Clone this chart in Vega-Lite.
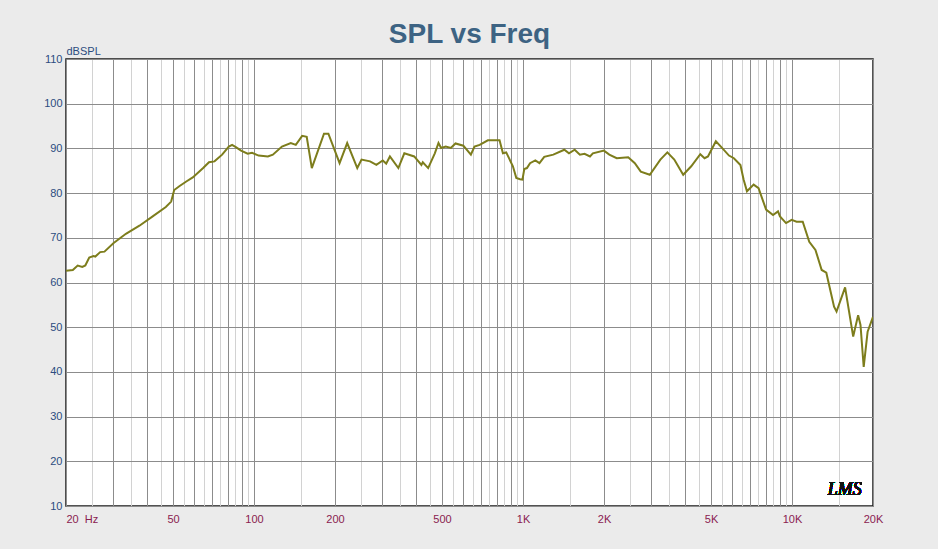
{
  "$schema": "https://vega.github.io/schema/vega-lite/v6.json",
  "description": "SPL vs frequency response of a driver.",
  "width": 807,
  "height": 447,
  "autosize": {"type": "none"},
  "padding": {"left": 66, "top": 59, "right": 65, "bottom": 43},
  "background": "#ebebeb",
  "title": {
    "text": "SPL vs Freq",
    "font": "Liberation Sans",
    "fontSize": 28,
    "fontWeight": "bold",
    "color": "#3d6383",
    "anchor": "middle",
    "baseline": "alphabetic",
    "offset": -26
  },
  "data": {
    "values": [
      {"freq": 20, "spl": 62.6}, {"freq": 21.2, "spl": 62.8}, {"freq": 22.1, "spl": 63.8},
      {"freq": 23, "spl": 63.5}, {"freq": 23.6, "spl": 63.8}, {"freq": 24.4, "spl": 65.6},
      {"freq": 25.3, "spl": 65.9}, {"freq": 25.7, "spl": 65.8}, {"freq": 26.8, "spl": 66.8},
      {"freq": 27.8, "spl": 66.9}, {"freq": 30, "spl": 68.8}, {"freq": 33.4, "spl": 70.9},
      {"freq": 37.5, "spl": 72.7}, {"freq": 42, "spl": 74.8}, {"freq": 47, "spl": 76.9},
      {"freq": 49.2, "spl": 78.1}, {"freq": 50.5, "spl": 80.7}, {"freq": 52.9, "spl": 81.6},
      {"freq": 56, "spl": 82.6}, {"freq": 59.2, "spl": 83.5}, {"freq": 64.7, "spl": 85.6},
      {"freq": 68, "spl": 86.9}, {"freq": 71.3, "spl": 87.1}, {"freq": 76.1, "spl": 88.6},
      {"freq": 80.6, "spl": 90.4}, {"freq": 82.9, "spl": 90.8}, {"freq": 85.6, "spl": 90.3},
      {"freq": 89.5, "spl": 89.5}, {"freq": 94.7, "spl": 88.8}, {"freq": 98.3, "spl": 89.0},
      {"freq": 104, "spl": 88.4}, {"freq": 112.6, "spl": 88.2}, {"freq": 117.5, "spl": 88.6},
      {"freq": 127, "spl": 90.4}, {"freq": 137, "spl": 91.2}, {"freq": 143, "spl": 90.8},
      {"freq": 151, "spl": 92.8}, {"freq": 157, "spl": 92.6}, {"freq": 164, "spl": 85.6},
      {"freq": 182, "spl": 93.3}, {"freq": 189, "spl": 93.3}, {"freq": 208, "spl": 86.7},
      {"freq": 222, "spl": 91.2}, {"freq": 242, "spl": 85.6}, {"freq": 251, "spl": 87.5},
      {"freq": 270, "spl": 87.1}, {"freq": 285, "spl": 86.3}, {"freq": 301, "spl": 87.3},
      {"freq": 310, "spl": 86.6}, {"freq": 320, "spl": 88.2}, {"freq": 344, "spl": 85.6},
      {"freq": 362, "spl": 88.9}, {"freq": 394, "spl": 88.2}, {"freq": 419, "spl": 86.3},
      {"freq": 424, "spl": 86.9}, {"freq": 444, "spl": 85.6}, {"freq": 470, "spl": 88.9},
      {"freq": 485, "spl": 91.2}, {"freq": 496, "spl": 90.1}, {"freq": 516, "spl": 90.4},
      {"freq": 539, "spl": 90.1}, {"freq": 561, "spl": 91.1}, {"freq": 600, "spl": 90.6},
      {"freq": 640, "spl": 88.6}, {"freq": 660, "spl": 90.4}, {"freq": 690, "spl": 90.8},
      {"freq": 740, "spl": 91.8}, {"freq": 818, "spl": 91.8}, {"freq": 842, "spl": 88.9},
      {"freq": 866, "spl": 89.1}, {"freq": 917, "spl": 86.0}, {"freq": 944, "spl": 83.4},
      {"freq": 975, "spl": 83.1}, {"freq": 995, "spl": 83.0}, {"freq": 1011, "spl": 85.4},
      {"freq": 1034, "spl": 85.6}, {"freq": 1062, "spl": 86.7}, {"freq": 1111, "spl": 87.3},
      {"freq": 1151, "spl": 86.7}, {"freq": 1199, "spl": 88.1}, {"freq": 1296, "spl": 88.6},
      {"freq": 1424, "spl": 89.7}, {"freq": 1482, "spl": 88.9}, {"freq": 1556, "spl": 89.7},
      {"freq": 1627, "spl": 88.6}, {"freq": 1693, "spl": 88.8}, {"freq": 1774, "spl": 88.2},
      {"freq": 1818, "spl": 88.9}, {"freq": 1998, "spl": 89.5}, {"freq": 2093, "spl": 88.6},
      {"freq": 2230, "spl": 87.8}, {"freq": 2460, "spl": 88.0}, {"freq": 2604, "spl": 86.7},
      {"freq": 2740, "spl": 84.8}, {"freq": 2960, "spl": 84.1}, {"freq": 3240, "spl": 87.5},
      {"freq": 3440, "spl": 89.1}, {"freq": 3650, "spl": 87.5}, {"freq": 3940, "spl": 84.1},
      {"freq": 4220, "spl": 86.0}, {"freq": 4560, "spl": 88.7}, {"freq": 4730, "spl": 87.8},
      {"freq": 4870, "spl": 88.2}, {"freq": 5210, "spl": 91.6}, {"freq": 5440, "spl": 90.4},
      {"freq": 5830, "spl": 88.4}, {"freq": 6080, "spl": 87.8}, {"freq": 6430, "spl": 86.3},
      {"freq": 6610, "spl": 83.0}, {"freq": 6800, "spl": 80.4}, {"freq": 7200, "spl": 81.9},
      {"freq": 7510, "spl": 81.1}, {"freq": 8010, "spl": 76.3}, {"freq": 8500, "spl": 75.1},
      {"freq": 8870, "spl": 75.9}, {"freq": 9020, "spl": 74.8}, {"freq": 9500, "spl": 73.3},
      {"freq": 9970, "spl": 74.0}, {"freq": 10400, "spl": 73.6}, {"freq": 10960, "spl": 73.6},
      {"freq": 11590, "spl": 69.1}, {"freq": 12220, "spl": 67.3}, {"freq": 12890, "spl": 62.8},
      {"freq": 13410, "spl": 62.2}, {"freq": 14330, "spl": 54.6}, {"freq": 14640, "spl": 53.5},
      {"freq": 15750, "spl": 58.9}, {"freq": 16880, "spl": 47.9}, {"freq": 17610, "spl": 52.7},
      {"freq": 17970, "spl": 50.5}, {"freq": 18470, "spl": 41.1}, {"freq": 19100, "spl": 49.0},
      {"freq": 20000, "spl": 52.3}
    ]
  },
  "layer": [
    {
      "mark": {"type": "line", "color": "#7d7d1c", "strokeWidth": 2, "clip": true},
      "encoding": {
        "x": {
          "field": "freq",
          "type": "quantitative",
          "scale": {"type": "log", "domain": [20, 20000], "nice": false},
          "axis": {
            "title": null,
            "values": [20, 25, 30, 35, 40, 45, 50, 55, 60, 65, 70, 75, 80, 85, 90, 95,
              100, 150, 200, 250, 300, 350, 400, 450, 500, 550, 600, 650, 700, 750, 800, 850, 900, 950,
              1000, 1500, 2000, 2500, 3000, 3500, 4000, 4500, 5000, 5500, 6000, 6500, 7000, 7500, 8000, 8500, 9000, 9500,
              10000, 15000, 20000],
            "labelExpr": "indexof([20, 50, 100, 200, 500, 1000, 2000, 5000, 10000, 20000], datum.value) < 0 ? '' : datum.value == 20 ? '20\u00a0\u00a0Hz' : datum.value >= 1000 ? (datum.value / 1000) + 'K' : datum.value + ''",
            "labelAlign": {"condition": {"test": "datum.value < 21", "value": "left"}, "value": "center"},
            "labelOverlap": false,
            "labelFont": "Liberation Sans",
            "labelFontSize": 11,
            "labelColor": "#8a2150",
            "labelPadding": 7,
            "labelBaseline": "top",
            "ticks": false,
            "domain": false,
            "grid": true,
            "gridColor": {
              "condition": {"test": "indexof([20, 30, 40, 50, 60, 70, 80, 90, 100, 200, 300, 400, 500, 600, 700, 800, 900, 1000, 2000, 3000, 4000, 5000, 6000, 7000, 8000, 9000, 10000, 20000], datum.value) >= 0", "value": "#8c8c8c"},
              "value": "#d2d2d2"
            },
            "gridWidth": 1
          }
        },
        "y": {
          "field": "spl",
          "type": "quantitative",
          "scale": {"domain": [10, 110], "nice": false},
          "axis": {
            "title": "dBSPL",
            "titleAngle": 0,
            "titleX": 0,
            "titleY": -5,
            "titleAlign": "left",
            "titleBaseline": "alphabetic",
            "titleFont": "Liberation Sans",
            "titleFontSize": 11,
            "titleFontWeight": "normal",
            "titleColor": "#2c4c80",
            "values": [10, 15, 20, 25, 30, 35, 40, 45, 50, 55, 60, 65, 70, 75, 80, 85, 90, 95, 100, 105, 110],
            "labelExpr": "datum.value % 10 == 0 ? datum.label : ''",
            "labelFont": "Liberation Sans",
            "labelFontSize": 11,
            "labelColor": "#2c4c80",
            "labelPadding": 4,
            "labelOverlap": false,
            "ticks": false,
            "domain": false,
            "grid": true,
            "gridColor": {
              "condition": {"test": "datum.value % 10 == 0", "value": "#8c8c8c"},
              "value": "#d2d2d2"
            },
            "gridWidth": 1
          }
        }
      }
    },
    {
      "mark": {"type": "text", "text": "LMS", "font": "Liberation Serif", "fontStyle": "italic", "fontSize": 18, "color": "#111111", "align": "center", "baseline": "middle"},
      "encoding": {
        "x": {"datum": 15700, "type": "quantitative"},
        "y": {"datum": 13.5, "type": "quantitative"}
      }
    }
  ],
  "config": {
    "view": {"stroke": "#1a1a1a", "strokeWidth": 1.5, "fill": "#ffffff"}
  }
}
